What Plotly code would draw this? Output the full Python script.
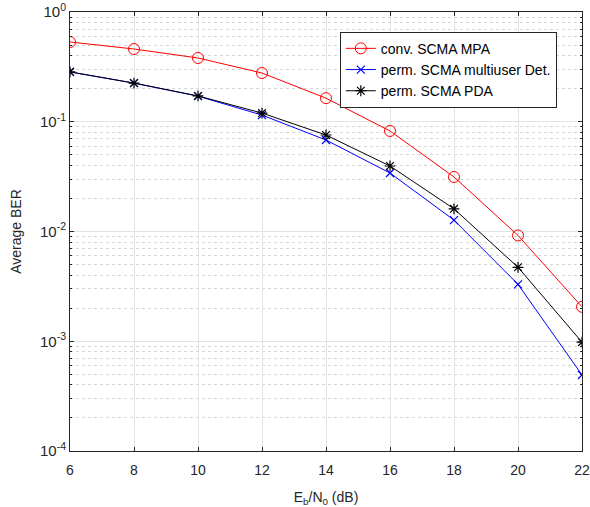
import numpy as np
import plotly.graph_objects as go

ebn0 = [6, 8, 10, 12, 14, 16, 18, 20, 22]
ber_mpa = [0.533, 0.46, 0.381, 0.278, 0.164, 0.0824, 0.0314, 0.0092, 0.00206]
ber_mud = [0.284, 0.225, 0.171, 0.115, 0.0682, 0.0341, 0.0127, 0.0033, 0.000493]
ber_pda = [0.285, 0.225, 0.172, 0.120, 0.0757, 0.0395, 0.0161, 0.00472, 0.00098]

y_major = [1e-4, 1e-3, 1e-2, 1e-1, 1]
y_major_text = ["10<sup>-4</sup>", "10<sup>-3</sup>", "10<sup>-2</sup>", "10<sup>-1</sup>", "10<sup>0</sup>"]
y_minor = [m * 10.0 ** e for e in range(-4, 0) for m in range(2, 10)]

FONT = "Liberation Sans, Arial, sans-serif"
AX = "#262626"

fig = go.Figure()
fig.add_trace(go.Scatter(x=ebn0, y=ber_mpa, mode="lines+markers", name="conv. SCMA MPA",
                         line=dict(color="#ff0000", width=1),
                         marker=dict(symbol="circle-open", size=11, color="#ff0000", line=dict(width=1))))
fig.add_trace(go.Scatter(x=ebn0, y=ber_mud, mode="lines+markers", name="perm. SCMA multiuser Det.",
                         line=dict(color="#0000ff", width=1),
                         marker=dict(symbol="x-thin-open", size=8, color="#0000ff", line=dict(width=1.2))))
fig.add_trace(go.Scatter(x=ebn0, y=ber_pda, mode="lines+markers", name="perm. SCMA PDA",
                         line=dict(color="#000000", width=1),
                         marker=dict(symbol="asterisk-open", size=9, color="#000000", line=dict(width=1.2))))

fig.update_xaxes(range=[6, 22], tickvals=list(range(6, 23, 2)), showgrid=True, gridcolor="#e2e2e2",
                 gridwidth=1, ticks="inside", ticklen=4, tickcolor=AX, showline=True, linecolor=AX,
                 linewidth=1, mirror="ticks", zeroline=False, automargin=False, ticklabelstandoff=6,
                 tickfont=dict(size=14, color=AX, family=FONT),
                 title=dict(text="E<sub>b</sub>/N<sub>0</sub> (dB)", font=dict(size=14, color=AX, family=FONT)))
fig.update_yaxes(type="log", range=[-4, 0], tickvals=y_major, ticktext=y_major_text, showgrid=True,
                 gridcolor="#e2e2e2", gridwidth=1, ticks="inside", ticklen=4, tickcolor=AX,
                 showline=True, linecolor=AX, linewidth=1, mirror="ticks", zeroline=False, automargin=False,
                 tickfont=dict(size=15, color=AX, family=FONT),
                 minor=dict(tickvals=y_minor, ticks="inside", ticklen=2, tickcolor=AX, showgrid=True,
                            gridcolor="#d6d6d6", griddash="dot", gridwidth=1),
                 title=dict(text="Average BER", font=dict(size=14, color=AX, family=FONT)))

fig.update_layout(width=590, height=507, margin=dict(l=70, r=8, t=12, b=56),
                  paper_bgcolor="white", plot_bgcolor="white",
                  font=dict(family=FONT, color=AX),
                  legend=dict(x=0.527, y=0.955, xanchor="left", yanchor="top", bgcolor="white",
                              bordercolor="#262626", borderwidth=1, font=dict(size=14, color="#000000", family=FONT),
                              tracegroupgap=0, itemwidth=30))

# page body has a default 8px margin; drop it so the figure sits at the window corner
fig.write_html("out.html", config={"displayModeBar": False},
               post_script="document.body.style.margin='0';document.body.style.overflow='hidden';")
